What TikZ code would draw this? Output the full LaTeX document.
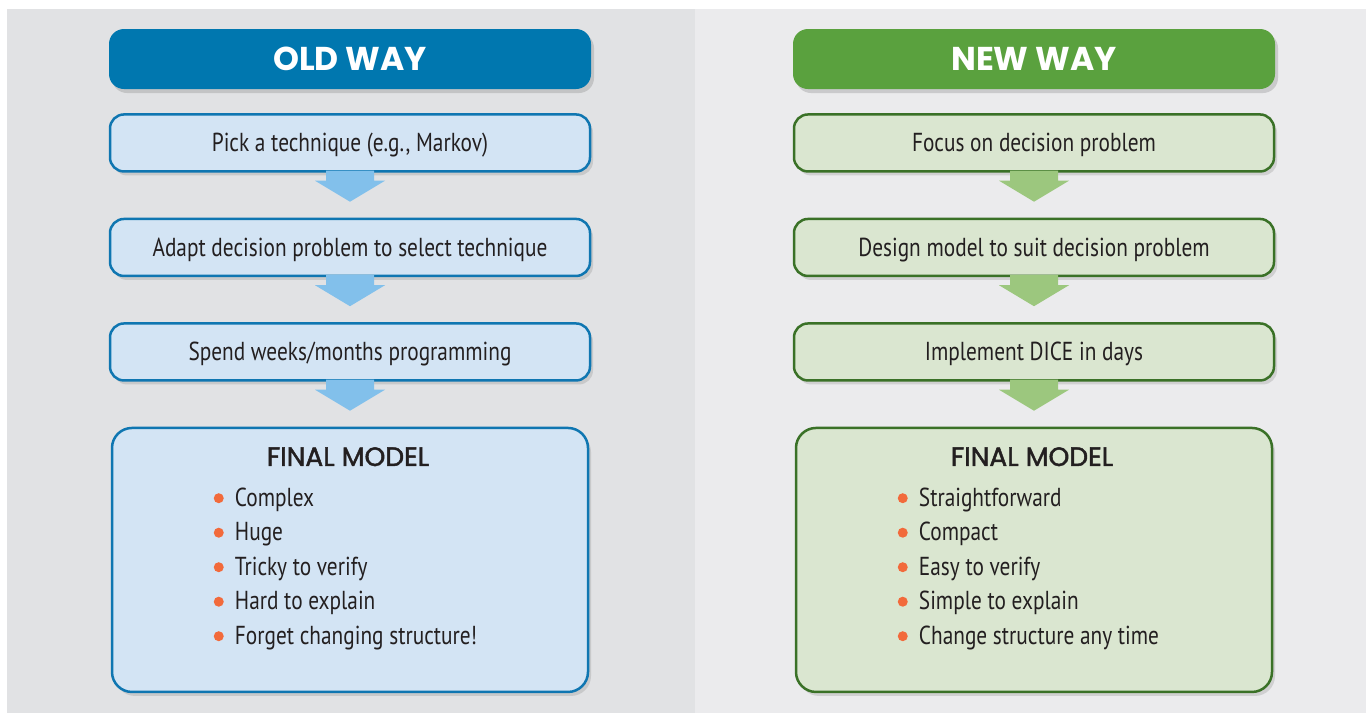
\documentclass[tikz,border=0pt]{standalone}
\usepackage{fontspec}
\usetikzlibrary{positioning,calc,shadows}
\newfontfamily\bodyfont{PT Sans}[FakeStretch=0.82]
\newfontfamily\headfont{Poppins}
\newfontfamily\midfont{Poppins}[FakeBold=1.8]
\definecolor{oldbg}{HTML}{E1E2E4}
\definecolor{newbg}{HTML}{EBEBED}
\definecolor{oldhead}{HTML}{0077AF}
\definecolor{oldfill}{HTML}{D3E4F4}
\definecolor{oldline}{HTML}{0F76B1}
\definecolor{oldarrow}{HTML}{82C0EB}
\definecolor{newhead}{HTML}{5AA13E}
\definecolor{newfill}{HTML}{DAE6D0}
\definecolor{newline}{HTML}{3A7127}
\definecolor{newarrow}{HTML}{9CC77E}
\definecolor{dot}{HTML}{F26A3B}
\definecolor{ink}{HTML}{231F20}
\newcommand{\fatarrow}[2]{%
  \fill[#2] ($(#1)+(-24,-2)$) -- ($(#1)+(24,-2)$) -- ($(#1)+(24,8)$) -- ($(#1)+(35,8)$)
    -- ($(#1)+(0,29)$) -- ($(#1)+(-35,8)$) -- ($(#1)+(-24,8)$) -- cycle;}

\begin{document}
\begin{tikzpicture}[x=1pt,y=-1pt]
\tikzstyle{head}=[rounded corners=15pt,minimum width=482pt,minimum height=60pt,text=white,
  font=\headfont\bfseries\fontsize{33}{36}\selectfont,drop shadow={opacity=0.3,shadow xshift=3pt,shadow yshift=-4pt}];
\tikzstyle{stage}=[rounded corners=14pt,line width=2.5pt,minimum width=480pt,minimum height=57pt,text=ink,
  text height=22pt,text depth=4pt,
  font=\bodyfont\fontsize{26}{30}\selectfont,drop shadow={opacity=0.25,shadow xshift=3pt,shadow yshift=-4pt}];
\tikzstyle{final}=[stage,rounded corners=20pt,minimum width=476pt,minimum height=264pt];
\tikzstyle{fintitle}=[text=ink,font=\midfont\fontsize{26.5}{30}\selectfont];
\tikzstyle{item}=[anchor=west,inner sep=0pt,text height=22pt,text depth=4pt,text=ink,
  font=\bodyfont\fontsize{26}{30}\selectfont];
\useasboundingbox (0,0) rectangle (1366,713);
\fill[white] (0,0) rectangle (1366,713);
\fill[oldbg] (7,9) rectangle (695,713);
\fill[newbg] (695,9) rectangle (1366,713);

\node[head,fill=oldhead] (oldh) at (350,59) {OLD WAY};
\node[stage,draw=oldline,fill=oldfill,below=24pt of oldh] (o1) {Pick a technique (e.g., Markov)};
\node[stage,draw=oldline,fill=oldfill,below=45pt of o1] (o2) {Adapt decision problem to select technique};
\node[stage,draw=oldline,fill=oldfill,below=45pt of o2] (o3) {Spend weeks/months programming};
\node[final,draw=oldline,fill=oldfill,below=45pt of o3] (ofin) {};
\node[fintitle] (ofint) at ($(ofin.north)+(-2,30)$) {FINAL MODEL};
\foreach \txt [count=\i] in {Complex,Huge,Tricky to verify,Hard to explain,Forget changing structure!} {
  \node[item] (oi\i) at ($(ofin.north west)+(124,36+34.5*\i)$) {\txt};
  \fill[dot] ($(oi\i.west)+(-16,1)$) circle (5pt);
}
\fatarrow{o1.south}{oldarrow}
\fatarrow{o2.south}{oldarrow}
\fatarrow{o3.south}{oldarrow}

\node[head,fill=newhead] (newh) at (1034,59) {NEW WAY};
\node[stage,draw=newline,fill=newfill,below=24pt of newh] (n1) {Focus on decision problem};
\node[stage,draw=newline,fill=newfill,below=45pt of n1] (n2) {Design model to suit decision problem};
\node[stage,draw=newline,fill=newfill,below=45pt of n2] (n3) {Implement DICE in days};
\node[final,draw=newline,fill=newfill,below=45pt of n3] (nfin) {};
\node[fintitle] (nfint) at ($(nfin.north)+(-2,30)$) {FINAL MODEL};
\foreach \txt [count=\i] in {Straightforward,Compact,Easy to verify,Simple to explain,Change structure any time} {
  \node[item] (ni\i) at ($(nfin.north west)+(124,36+34.5*\i)$) {\txt};
  \fill[dot] ($(ni\i.west)+(-16,1)$) circle (5pt);
}
\fatarrow{n1.south}{newarrow}
\fatarrow{n2.south}{newarrow}
\fatarrow{n3.south}{newarrow}
\end{tikzpicture}
\end{document}
